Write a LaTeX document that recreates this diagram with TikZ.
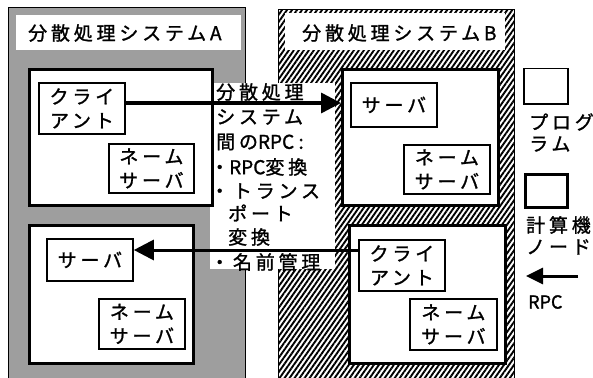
\documentclass[tikz,border=0pt]{standalone}
\usepackage{fontspec}
\newfontfamily\jp[LetterSpace=20,FakeBold=1.3]{Noto Sans CJK JP}
\newfontfamily\jpn[FakeBold=1.3]{Noto Sans CJK JP}
\usetikzlibrary{arrows.meta,patterns.meta}
\begin{document}
\begin{tikzpicture}[x=1pt,y=-1pt,
  font=\jp\fontsize{19}{24}\selectfont,
  regionA/.style={draw, line width=1pt, fill=black!38},
  regionB/.style={draw, line width=1pt, pattern={Lines[angle=55, distance=4.1pt, line width=1.9pt]}},
  comp/.style={draw, line width=3pt, fill=white, anchor=north west, inner sep=0pt},
  prog/.style={draw, line width=1.8pt, fill=white, anchor=north west, inner sep=0pt, align=center},
  lbl/.style={anchor=west, inner sep=0pt},
  whitebox/.style={fill=white, anchor=north west, inner sep=0pt},
  rpc/.style={line width=3.5pt, -{Triangle[length=20pt,width=20pt]}},
]
\useasboundingbox (0,0) rectangle (593,377);
\clip (0,0) rectangle (593,377);
% regions
\node[regionA, anchor=north west, inner sep=0pt, minimum width=237, minimum height=380] (regA) at (8,7) {};
\node[regionB, anchor=north west, inner sep=0pt, minimum width=236, minimum height=380] (regB) at (278,9) {};
% region labels
\node[whitebox, minimum width=225, minimum height=35] (labA) at (16,15) {};
\node[lbl] (labAt) at (28,33) {分散処理システムA};
\node[whitebox, minimum width=220, minimum height=37] (labB) at (285,13) {};
\node[lbl] (labBt) at (302,33) {分散処理システムB};
% central text box
\node[whitebox, minimum width=125, minimum height=186] (tb) at (210,83) {};
\node[lbl] (t1) at (216,92) {分散処理};
\node[lbl] (t2) at (216,117) {システム};
\node[lbl] (t3) at (216,142) {間の{\jpn RPC :}};
\node[lbl] (t4) at (210,167) {・{\jpn RPC}変換};
\node[lbl] (t5) at (210,191) {・トランス};
\node[lbl] (t6) at (228,213) {ポート};
\node[lbl] (t7) at (228,237) {変換};
\node[lbl] (t8) at (210,262) {・名前管理};
% computer nodes
\node[comp, minimum width=183, minimum height=136] (cA1) at (28,68) {};
\node[comp, minimum width=164, minimum height=138] (cA2) at (28,224) {};
\node[comp, minimum width=156, minimum height=136] (cB1) at (341,68) {};
\node[comp, minimum width=156, minimum height=138] (cB2) at (348,224) {};
% programs
\node[prog, minimum width=86, minimum height=51] (clA) at (38,82) {クライ\\アント};
\node[prog, minimum width=85, minimum height=49] (nsA1) at (108,143) {ネーム\\サーバ};
\node[prog, minimum width=86, minimum height=42] (svA2) at (46,238) {サーバ};
\node[prog, minimum width=86, minimum height=50] (nsA2) at (98,298) {ネーム\\サーバ};
\node[prog, minimum width=86, minimum height=44] (svB1) at (350,82) {サーバ};
\node[prog, minimum width=86, minimum height=49] (nsB1) at (403,144) {ネーム\\サーバ};
\node[prog, minimum width=86, minimum height=51] (clB2) at (358,239) {クライ\\アント};
\node[prog, minimum width=87, minimum height=51] (nsB2) at (409,298) {ネーム\\サーバ};
% RPC arrows
\coordinate (a1s) at ([yshift=-21]clA.north east);
\draw[rpc] (a1s) -- (a1s -| cB1.west);
\coordinate (a2s) at ([yshift=-11]clB2.north west);
\draw[rpc, line width=3pt] (a2s) -- (a2s -| svA2.east);
% legend
\node[prog, line width=1.5pt, minimum width=44, minimum height=35] (lgP) at (523,68) {};
\node[lbl] (lgPt1) at (529,122) {プログ};
\node[lbl] (lgPt2) at (529,144) {ラム};
\node[comp, minimum width=42, minimum height=33] (lgC) at (524,173) {};
\node[lbl] (lgCt1) at (526,225) {計算機};
\node[lbl] (lgCt2) at (526,247) {ノード};
\coordinate (lgs) at (578,276);
\coordinate (lge) at (526,276);
\draw[line width=3pt, -{Triangle[length=17pt,width=16pt]}] (lgs) -- (lge);
\node[lbl, font=\jpn\fontsize{18}{24}\selectfont] (lgR) at (528,302) {RPC};
\end{tikzpicture}
\end{document}
